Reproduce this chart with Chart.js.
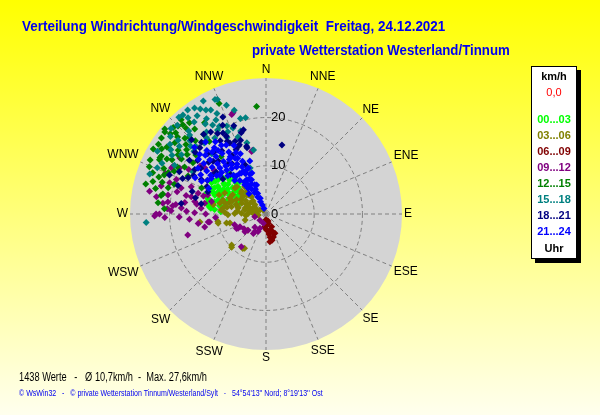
<!DOCTYPE html>
<html>
<head>
<meta charset="utf-8">
<script src="https://cdn.jsdelivr.net/npm/chart.js@4.4.1/dist/chart.umd.min.js"></script>
<style>
  html, body { margin: 0; padding: 0; }
  body {
    width: 600px; height: 415px; overflow: hidden; position: relative;
    background: linear-gradient(to bottom, #ffff00 0%, #ffffee 100%);
    font-family: "Liberation Sans", Arial, sans-serif;
  }
  #chart { position: absolute; left: 0; top: 0; }
  .txt { position: absolute; white-space: pre; transform-origin: left top; }
  #title { left: 22px; top: 18px; font: bold 15px/15px "Liberation Sans Narrow", "Liberation Sans", sans-serif; color: #0000f0; }
  #subtitle { left: 252px; top: 42px; font: bold 15px/15px "Liberation Sans Narrow", "Liberation Sans", sans-serif; color: #0000f0; }
  #info { left: 19px; top: 371px; font: 12px/12px "Liberation Sans", sans-serif; color: #000; }
  #copy { left: 19px; top: 389px; font: 9px/9px "Liberation Sans", sans-serif; color: #0000f0; }
  #legend {
    position: absolute; left: 531px; top: 66px; width: 46px; height: 193px;
    box-sizing: border-box; background: #fff; border: 1px solid #000;
    box-shadow: 4px 4px 0 #000;
  }
  #legend div {
    position: absolute; left: 0; width: 44px; height: 14px; line-height: 14px;
    text-align: center; font: bold 11px/14px "Liberation Sans", sans-serif;
  }
</style>
</head>
<body>
<canvas id="chart" width="600" height="415"></canvas>
<div class="txt" id="title">Verteilung Windrichtung/Windgeschwindigkeit  Freitag, 24.12.2021</div>
<div class="txt" id="subtitle">private Wetterstation Westerland/Tinnum</div>
<div class="txt" id="info">1438 Werte   -   Ø 10,7km/h  -  Max. 27,6km/h</div>
<div class="txt" id="copy">© WsWin32   -   © private Wetterstation Tinnum/Westerland/Sylt   -   54°54'13'' Nord; 8°19'13'' Ost</div>
<div id="legend"></div>
<script>
// wind direction labels and speed rings (km/h)
const directions = ['N', 'NNE', 'NE', 'ENE', 'E', 'ESE', 'SE', 'SSE', 'S', 'SSW', 'SW', 'WSW', 'W', 'WNW', 'NW', 'NNW'];
const ringTicks = [0, 10, 20];
const RMAX = 28.2;

// time groups (Uhr)
const groups = ['00...03', '03...06', '06...09', '09...12', '12...15', '15...18', '18...21', '21...24'];
const colors = ['#00ff00', '#808000', '#800000', '#800080', '#008000', '#008080', '#000080', '#0000ff'];

// samples: [direction in degrees, speed in km/h]
const h00 = [[279,11.4],[290,11.3],[298,10.8],[305,10.5],[313,10.3],[319,9.9],[321,8.6],[286,10.4],[293,10.0],[300,9.1],
  [308,8.8],[311,7.7],[312,6.5],[282,8.7],[291,8.0],[299,7.4],[293,5.9],[275,10.7],[273,9.4],[325,7.3],[284,12.0],
  [314,10.9],[306,10.8],[300,11.5],[306,12.2],[295,12.5],[285,10.0],[302,7.0],[316,9.0],[308,10.0],[290,8.5],
  [296,10.0],[310,7.0],[318,11.5],[288,6.5],[280,9.8],[304,6.0],[297,8.5],[303,9.5],[309,11.5],[294,11.0],
  [288,9.5],[283,11.0],[314,8.0],[320,10.5],[300,10.2],[305,8.0],[277,11.8],[285,12.5],[290,12.8],[297,12.0],
  [303,12.5],[310,12.0],[280,12.5],[276,11.5],[292,11.8],[300,13.0],[288,13.2]];
const h03 = [[326,1.0],[304,1.5],[263,1.6],[282,2.3],[286,3.1],[292,4.0],[272,3.7],[281,4.5],[294,5.5],[272,5.1],
  [282,5.9],[296,6.8],[271,6.5],[282,7.3],[294,8.2],[269,7.9],[285,8.8],[278,9.0],[283,9.8],[310,6.7],[319,6.1],
  [320,4.7],[322,7.2],[310,8.4],[297,9.6],[261,10.1],[256,7.7],[254,4.5],[229,5.1],[228,9.6],[214,8.6],[263,13.8],
  [259,10.1],[315,5.6],[313,6.9],[313,8.3],[288,9.4],[280,11.1],[275,9.3],[300,2.5],[290,2.0],[305,4.0],[300,6.0],
  [288,6.5],[276,2.8],[266,4.2],[292,10.5],[300,8.0],[226,9.9],[212,8.4],[257,8.4],[310,3.0],[284,6.0],[279,3.5],
  [286,4.5],[297,4.5],[303,5.0],[307,6.0],[291,7.5],[276,6.0],[272,8.5],[287,8.0],[280,8.2],[295,3.0],[315,3.8],
  [318,5.2],[270,2.5]];
const h06 = [[175,2.3],[166,3.4],[159,4.0],[170,4.9],[167,5.6],[184,2.9],[164,1.5],[159,4.3],[155,4.4],[168,5.5],
  [172,5.8],[178,3.3],[166,2.0],[185,2.6],[156,2.9],[162,5.0],[172,4.2],[180,1.2]];
const h09 = [[281,24.6],[270,22.8],[270,22.1],[276,21.5],[277,20.5],[275,19.4],[272,19.7],[274,17.6],[281,20.7],
  [271,14.8],[266,15.9],[262,12.1],[283,15.9],[280,15.0],[287,14.7],[275,13.5],[280,12.9],[288,21.0],[291,19.9],
  [287,18.4],[269,23.1],[255,16.8],[297,21.7],[303,21.3],[342,22.1],[341,21.8],[348,13.5],[307,15.9],[256,2.4],
  [225,1.8],[196,2.0],[203,3.2],[204,4.0],[212,4.3],[228,5.0],[230,5.7],[243,6.5],[251,6.9],[262,11.8],[288,12.7],
  [283,11.6],[217,8.5],[213,4.8],[244,6.0],[244,6.8],[306,16.9],[296,21.8],[298,20.3],[347,13.3],[236,5.5],
  [220,3.6],[266,10.5],[278,17.0],[284,19.0],[268,18.0],[310,14.0],[285,22.5],[279,23.0],[273,20.5],[268,21.0],
  [276,18.8],[283,17.0],[290,16.5],[272,16.5],[262,14.2],[258,13.0],[278,14.5],[286,13.5],[292,22.5],[300,18.5],
  [270,12.5]];
const h12 = [[310,27.4],[309,27.0],[313,26.3],[310,25.9],[303,26.6],[304,24.8],[298,24.9],[317,24.3],[320,24.7],
  [337,24.9],[355,22.4],[292,26.1],[299,24.8],[284,25.7],[280,22.1],[291,22.6],[286,24.4],[285,21.0],[281,21.8],
  [273,21.1],[292,14.4],[317,25.3],[322,21.0],[311,24.3],[309,21.2],[316,21.1],[304,24.0],[297,24.8],[298,20.8],
  [303,20.9],[322,15.1],[322,19.1],[306,22.5],[313,23.0],[300,22.5],[295,21.0],[288,20.0],[305,18.5],[310,19.0],
  [315,25.8],[306,26.8],[294,23.2],[289,23.5],[326,22.8],[296,18.0],[300,27.0],[295,26.5],[290,25.0],[302,25.5],
  [308,24.0],[312,25.2],[318,26.3],[304,22.0],[299,23.5],[293,22.0],[287,22.5],[283,23.5],[276,22.5],[315,22.5],
  [320,23.0],[311,22.0],[300,19.5],[307,20.5]];
const h15 = [[328,25.7],[325,24.9],[321,25.7],[332,24.4],[337,25.8],[326,22.5],[332,22.1],[332,20.6],[306,24.6],
  [305,21.4],[314,21.9],[314,20.1],[322,20.0],[308,22.8],[336,26.0],[330,24.9],[330,20.1],[339,19.1],[348,20.4],
  [345,15.3],[341,10.1],[333,17.8],[343,18.0],[266,24.9],[289,25.5],[349,13.5],[318,27.0],[312,26.5],[300,26.0],
  [296,24.0],[302,23.0],[310,23.8],[317,23.5],[323,27.0],[328,23.3],[319,19.5],[326,19.0],[311,19.8],[343,22.5],
  [340,24.0],[298,21.5],[293,24.5],[318,16.8],[300,17.5],[320,26.8],[326,26.5],[331,26.8],[334,23.2],[329,21.5],
  [324,21.0],[316,22.8],[312,21.0],[309,25.5],[304,23.8],[336,20.0],[345,20.5],[340,17.0],[335,18.8],[322,24.2],
  [315,26.0]];
const h18 = [[13,14.7],[333,18.1],[343,17.6],[344,14.3],[337,16.4],[335,14.7],[337,11.1],[333,9.5],[333,16.5],
  [339,15.4],[344,14.6],[328,17.9],[315,21.8],[315,19.4],[316,17.4],[305,19.4],[302,17.4],[293,18.8],[295,17.8],
  [288,19.2],[298,15.2],[291,12.9],[279,13.6],[277,17.7],[292,21.6],[345,18.1],[332,17.1],[338,15.2],[310,13.5],
  [318,14.8],[323,13.0],[306,13.8],[312,16.0],[320,16.8],[326,12.5],[300,14.0],[329,19.5],[322,21.0],[308,18.0],
  [334,20.5],[340,19.5],[336,22.0],[318,11.0],[295,13.5],[325,16.0],[330,14.0],[315,15.5],[305,16.5],
  [298,17.0],[311,19.5],[318,20.0],[326,20.5],[332,19.0],[341,16.2],[309,11.5],[287,16.0],[283,15.0],
  [296,20.0]];
const h21 = [[340,1.2],[338,2.0],[336,2.8],[340,3.5],[334,3.9],[338,4.6],[332,5.0],[337,5.6],[330,6.0],[339,6.5],
  [334,6.9],[328,7.3],[337,7.7],[331,8.2],[326,8.0],[338,8.9],[333,9.4],[339,10.2],[329,9.9],[322,8.8],
  [320,5.5],[325,6.5],[320,10.5],[315,11.2],[303,13.5],
  [308,13.0],[313,12.6],[318,12.2],[323,11.8],[328,11.5],[333,11.0],[336,12.0],[331,13.2],[326,13.6],[321,14.0],
  [316,14.5],[311,14.8],[306,15.2],[301,15.8],[297,15.0],[304,17.0],[309,16.6],[314,16.2],[319,15.8],[324,15.5],
  [329,15.0],[334,14.2],[337,13.6],[327,17.0],[322,17.4],[317,18.0],[312,18.5],[325,18.3],[320,19.5],[313,20.3],
  [330,16.5],[335,15.7],[342,6.3],[341,9.0],[343,11.5],[300,14.0],[305,14.0],[310,12.5],[315,13.5],[320,13.0],
  [325,12.5],[330,12.0],[317,9.5],[322,10.0],[327,10.0],[332,10.0],[319,17.0],
  [314,17.5],[309,18.0],[323,16.5],[328,14.0],[333,13.0],[336,10.0],[334,8.0],[329,6.8],[324,7.5],[294,13.0],
  [297,16.5]];
const samples = [h00, h03, h06, h09, h12, h15, h18, h21];

function toXY(p) {
  const a = p[0] * Math.PI / 180;
  return { x: p[1] * Math.sin(a), y: p[1] * Math.cos(a) };
}

// polar grid, disc and labels
const polarGrid = {
  id: 'polarGrid',
  beforeDatasetsDraw(chart) {
    const ctx = chart.ctx;
    const sx = chart.scales.x, sy = chart.scales.y;
    const cx = sx.getPixelForValue(0), cy = sy.getPixelForValue(0);
    const rad = v => sx.getPixelForValue(v) - cx;
    const R = rad(RMAX);
    ctx.save();
    ctx.fillStyle = '#d4d4d4';
    ctx.beginPath();
    ctx.arc(cx, cy, R, 0, 2 * Math.PI);
    ctx.fill();

    ctx.strokeStyle = '#808080';
    ctx.lineWidth = 1;
    ctx.setLineDash([4, 3]);
    ringTicks.forEach(t => {
      if (t > 0) {
        ctx.beginPath();
        ctx.arc(cx, cy, rad(t), 0, 2 * Math.PI);
        ctx.stroke();
      }
    });
    directions.forEach((d, i) => {
      const a = i * 22.5 * Math.PI / 180;
      ctx.beginPath();
      ctx.moveTo(cx, cy);
      ctx.lineTo(cx + R * Math.sin(a), cy - R * Math.cos(a));
      ctx.stroke();
    });
    ctx.setLineDash([]);

    ctx.fillStyle = '#000';
    ctx.font = '12px "Liberation Sans", sans-serif';
    ctx.textAlign = 'center';
    ctx.textBaseline = 'middle';
    directions.forEach((d, i) => {
      const a = i * 22.5 * Math.PI / 180;
      const w = ctx.measureText(d).width;
      const r = R + 2 + Math.abs(Math.sin(a)) * w / 2 + Math.abs(Math.cos(a)) * 6;
      ctx.fillText(d, cx + r * Math.sin(a), cy - r * Math.cos(a));
    });
    ctx.font = '13px "Liberation Sans", sans-serif';
    ctx.textAlign = 'left';
    ringTicks.forEach(t => ctx.fillText(String(t), cx + 5, cy - rad(t)));
    ctx.restore();
  }
};

new Chart(document.getElementById('chart'), {
  type: 'scatter',
  data: {
    datasets: groups.map((g, i) => ({
      label: g,
      data: samples[i].map(toXY),
      backgroundColor: colors[i],
      borderWidth: 0,
      pointStyle: 'rectRot',
      pointRadius: 3.5,
      order: groups.length - i
    }))
  },
  options: {
    responsive: false,
    animation: false,
    layout: { padding: { left: 130, right: 198, top: 78, bottom: 65 } },
    scales: {
      x: { type: 'linear', min: -RMAX, max: RMAX, display: false },
      y: { type: 'linear', min: -RMAX, max: RMAX, display: false }
    },
    plugins: { legend: { display: false }, tooltip: { enabled: false } }
  },
  plugins: [polarGrid]
});

// legend box
const legend = document.getElementById('legend');
function addLine(text, color, centerY, bold) {
  const d = document.createElement('div');
  d.textContent = text;
  d.style.color = color;
  d.style.top = (centerY - 67 - 7) + 'px';
  if (!bold) d.style.fontWeight = 'normal';
  legend.appendChild(d);
}
addLine('km/h', '#000', 76, true);
addLine('0,0', '#ff0000', 92, false);
groups.forEach((g, i) => addLine(g, colors[i], 119 + i * 16, true));
addLine('Uhr', '#000', 248, true);

// squeeze text lines to the widths in the original
function fit(id, width) {
  const el = document.getElementById(id);
  el.style.transform = 'scaleX(' + (width / el.offsetWidth) + ')';
}
fit('title', 423);
fit('subtitle', 258);
fit('info', 188);
fit('copy', 304);
</script>
</body>
</html>
